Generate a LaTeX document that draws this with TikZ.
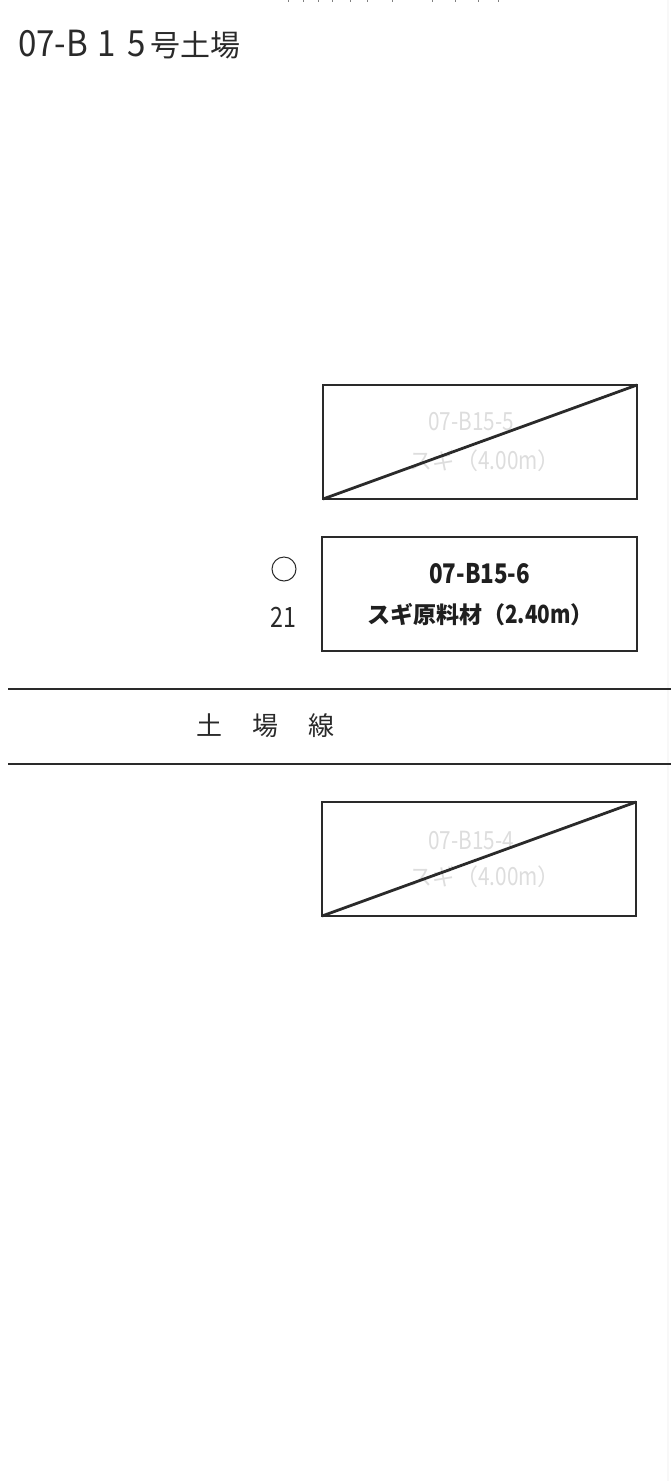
\documentclass[tikz,border=0pt]{standalone}
\usepackage{graphicx}
\usepackage{fontspec}
\setmainfont{Noto Sans CJK JP}
\definecolor{inkc}{HTML}{2A2A2A}
\definecolor{ghost}{HTML}{DDDDDD}
\definecolor{edgec}{HTML}{F8F8F8}
\newcommand{\nar}[1]{\scalebox{.83}[1]{#1}}
\newcommand{\narw}[1]{\scalebox{.92}[1]{#1}}
\newcommand{\fsz}[1]{\fontsize{#1}{#1}\selectfont}
\tikzset{
  lot/.style={draw=inkc,line width=2.8pt,minimum height=114pt,inner sep=0pt,outer sep=0pt,anchor=north west},
  keptlot/.style={lot,line width=2.4pt},
  strike/.style={draw=inkc,line width=2.8pt},
  rail/.style={draw=inkc,line width=2.8pt},
  ghosttext/.style={text=ghost,inner sep=0pt,anchor=west},
  boldtext/.style={text=black!88,font=\bfseries,inner sep=0pt,anchor=west},
  lighttext/.style={text=inkc,inner sep=0pt}
}
\begin{document}
\begin{tikzpicture}[x=1pt,y=-1pt]
\useasboundingbox (0,0) rectangle (671,1481);
\draw[edgec,line width=1.2pt] (668,0) -- (668,1481);
\draw[gray,line width=1pt] (288,0) -- (288,1.5) (303,0) -- (303,1.5) (318,0) -- (318,1.5) (332,0) -- (332,1.5) (350,0) -- (350,1.5) (367,0) -- (367,1.5) (392,0) -- (392,1.5) (432,0) -- (432,1.5) (455,0) -- (455,1.5) (478,0) -- (478,1.5) (498,0) -- (498,1.5);
\node[lighttext,anchor=west] (title) at (18,45) {\fsz{36}\narw{07-B}\hspace{9pt}\narw{1}\hspace{12pt}\narw{5}\hspace{5pt}\fsz{30}号土場};
\node[lot,minimum width=314pt] (a) at (323,385) {};
\node[ghosttext] (at1) at (428,421) {\fsz{25}\nar{07-B15-5}};
\node[ghosttext] (at2) at (409,461) {\fsz{23}スギ（\fsz{25}\nar{4.00m}\fsz{23}）};
\draw[strike] (a.south west) -- (a.north east);
\node[keptlot,minimum width=315pt] (b) at (322,537) {};
\node[boldtext] (bt1) at (429,574) {\fsz{27}\nar{07-B15-6}};
\node[boldtext] (bt2) at (367,615) {\fsz{23}スギ原料材（\fsz{25}\nar{2.40m}\fsz{23}）};
\node[circle,draw=inkc,line width=1pt,minimum size=24pt,inner sep=0pt,outer sep=0pt] (c) at (284,569) {};
\node[lighttext] (n) at (283.5,617) {\fsz{28}\nar{21}};
\coordinate (l1a) at (8,689);\coordinate (l1b) at (671,689);
\coordinate (l2a) at (8,764);\coordinate (l2b) at (671,764);
\draw[rail] (l1a) -- (l1b);
\draw[rail] (l2a) -- (l2b);
\node[lighttext,anchor=west] (s) at (196,726) {\fsz{26}土\hspace{30pt}場\hspace{30pt}線};
\node[lot,minimum width=314pt] (d) at (322,802) {};
\node[ghosttext] (dt1) at (428,840) {\fsz{25}\nar{07-B15-4}};
\node[ghosttext] (dt2) at (409,877) {\fsz{23}スギ（\fsz{25}\nar{4.00m}\fsz{23}）};
\draw[strike] (d.south west) -- (d.north east);
\end{tikzpicture}
\end{document}
